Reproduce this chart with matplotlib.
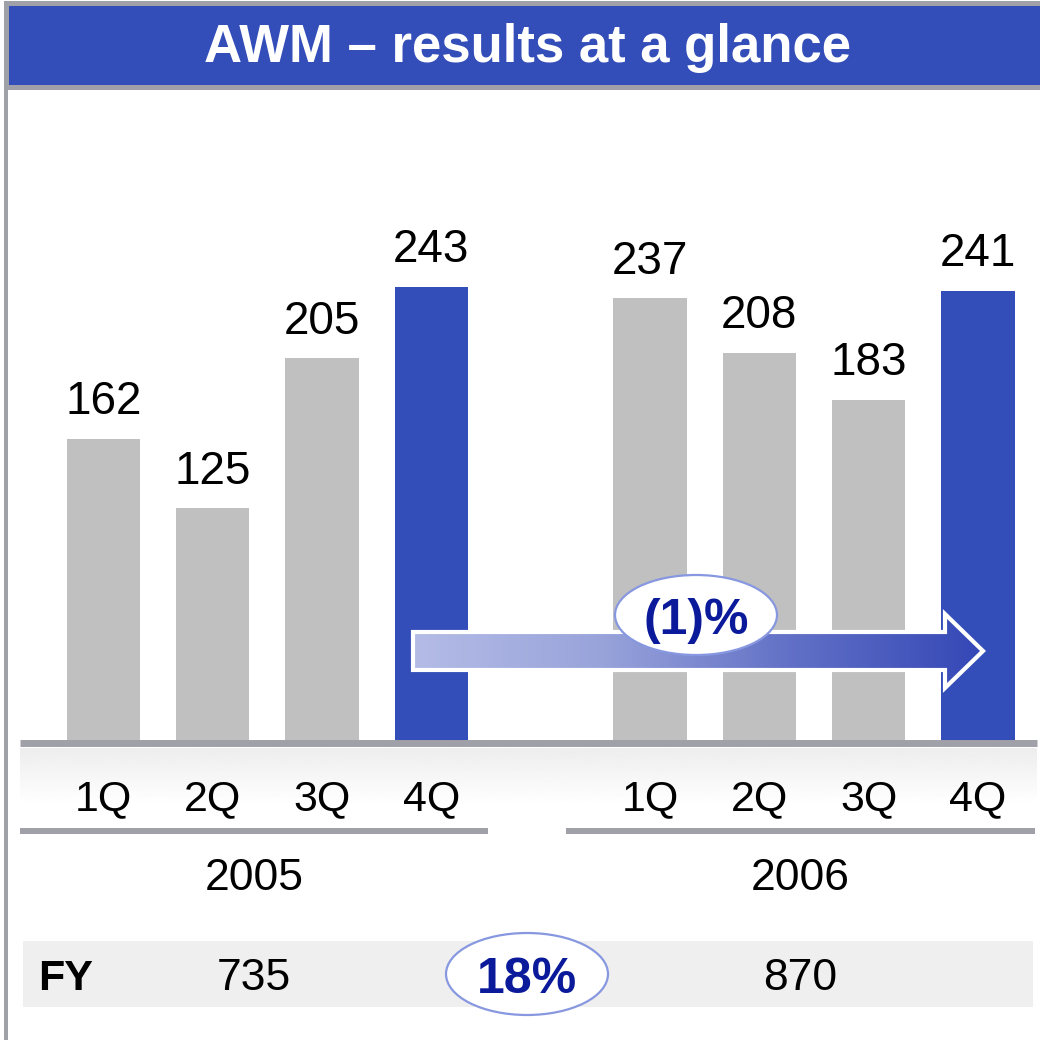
import numpy as np
import matplotlib
matplotlib.use("Agg")
import matplotlib.pyplot as plt
import matplotlib.patches as mpatches
from matplotlib.colors import LinearSegmentedColormap

plt.rcParams['font.family'] = ['Liberation Sans', 'DejaVu Sans']

# data
quarters = ["1Q", "2Q", "3Q", "4Q"]
years = ["2005", "2006"]
values_2005 = [162, 125, 205, 243]
values_2006 = [237, 208, 183, 241]
fy_values = [735, 870]
fy_growth = "18%"
q4_growth = "(1)%"

BLUE = "#334db9"
GRAY = "#c0c0c0"
LINE = "#a0a0a8"
DARK = "#0a1a9a"

W = H = 1040
fig = plt.figure(figsize=(10.4, 10.4), dpi=100)


def pixel_axes(z):
    a = fig.add_axes([0, 0, 1, 1], zorder=z)
    a.set_xlim(0, W)
    a.set_ylim(H, 0)
    a.axis("off")
    a.patch.set_alpha(0)
    return a


# background layer: frame, title, bands, lines
bg = pixel_axes(0)
bg.add_patch(mpatches.Rectangle((4, 1), W, 89, color=LINE, lw=0))
bg.add_patch(mpatches.Rectangle((9, 6), W, 79, color=BLUE, lw=0))
bg.add_patch(mpatches.Rectangle((4, 89), 4, H, color=LINE, lw=0))
bg.text(528, 48, "AWM \u2013 results at a glance", ha="center", va="center",
        fontsize=38, fontweight="bold", color="white")

grad = np.linspace(0.93, 1.0, 64).reshape(-1, 1)
bg.imshow(grad, cmap="gray", vmin=0, vmax=1, extent=(20, 1037, 805, 748), aspect="auto", zorder=1)

bg.add_patch(mpatches.Rectangle((20, 828), 468, 6, color=LINE, lw=0))
bg.add_patch(mpatches.Rectangle((566, 828), 469, 6, color=LINE, lw=0))
year_cx = [254, 800]
for cx, yr in zip(year_cx, years):
    bg.text(cx, 878, yr, ha="center", va="center", fontsize=32, color="black")

bg.add_patch(mpatches.Rectangle((23, 941), 1010, 66, color="#efefef", lw=0))
bg.text(38, 979, "FY", ha="left", va="center", fontsize=31, fontweight="bold", color="black")
for cx, v in zip(year_cx, fy_values):
    bg.text(cx, 979, str(v), ha="center", va="center", fontsize=32, color="black")
bg.add_patch(mpatches.Ellipse((527, 974), 162, 82, facecolor="white", edgecolor="#8898e0", lw=1.6, zorder=4))
bg.text(527, 980, fy_growth, ha="center", va="center", fontsize=36, fontweight="bold", color=DARK, zorder=5)

# bar axes: baseline at 743px, 1.877 px per unit
base_px = 743
ppu = 1.877
ymax = 300
x_left, x_right = 20, 1037
step = 109.3
x0 = -(103.5 - x_left) / step
ax = fig.add_axes([x_left / W, (H - base_px) / H, (x_right - x_left) / W, ymax * ppu / H], zorder=1)
ax.set_xlim(x0, x0 + (x_right - x_left) / step)
ax.set_ylim(0, ymax)
ax.axis("off")
ax.patch.set_alpha(0)

pos_2005 = np.arange(4)
pos_2006 = np.arange(4) + 5
for pos, vals in [(pos_2005, values_2005), (pos_2006, values_2006)]:
    colors = [GRAY, GRAY, GRAY, BLUE]
    ax.bar(pos, vals, width=0.67, color=colors, zorder=1)
    for p, v in zip(pos, vals):
        ax.text(p, v + 19.5, str(v), ha="center", va="center", fontsize=33, color="black")
    for p, q in zip(pos, quarters):
        ax.text(p, -30, q, ha="center", va="center", fontsize=31, color="black", clip_on=False)
ax.axhline(0, color=LINE, lw=5, xmin=0, xmax=1, clip_on=False, solid_capstyle="butt")

# foreground layer: arrow and growth bubble
fg = pixel_axes(3)
arrow_pts = [(413, 632), (945, 632), (945, 614), (983, 651), (945, 688), (945, 670), (413, 670)]
arrow = mpatches.Polygon(arrow_pts, closed=True, facecolor="none", edgecolor="none", zorder=3)
fg.add_patch(arrow)
cmap = LinearSegmentedColormap.from_list("arr", ["#b4bce6", "#98a3da", "#6170c6", "#3447b6"])
im = fg.imshow(np.linspace(0, 1, 256).reshape(1, -1), cmap=cmap, extent=(413, 983, 688, 614),
               aspect="auto", zorder=3)
im.set_clip_path(arrow)
fg.add_patch(mpatches.Polygon(arrow_pts, closed=True, facecolor="none", edgecolor="white", lw=3, zorder=3.5))

fg.add_patch(mpatches.Ellipse((696, 615), 162, 80, facecolor="white", edgecolor="#8898e0", lw=1.6, zorder=4))
fg.text(696, 621, q4_growth, ha="center", va="center", fontsize=36, fontweight="bold", color=DARK, zorder=5)

fig.savefig("out.png", dpi=100)
